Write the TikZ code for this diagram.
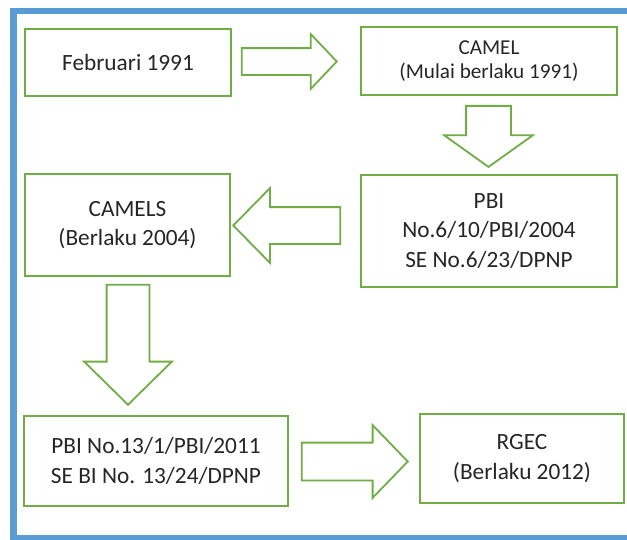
\documentclass[tikz,border=0pt]{standalone}
\usepackage{fontspec}
\setmainfont{Carlito}
\usetikzlibrary{shapes.arrows}
\definecolor{frameblue}{HTML}{5B9BD5}
\definecolor{boxgreen}{HTML}{70AD47}
\tikzset{
  stage/.style={draw=boxgreen,line width=2.2pt,fill=white,align=center,inner sep=0pt,text=black!85},
  blockarrow/.style={single arrow,draw=boxgreen,line width=1.8pt,fill=white,anchor=tip,single arrow head indent=0pt},
}
\begin{document}
\begin{tikzpicture}[x=1pt,y=-1pt,font=\fontsize{23.3}{29.5}\selectfont]
\useasboundingbox (0,0) rectangle (627,539);
\begin{scope}
\clip (0,0) rectangle (627,539);
\draw[frameblue,line width=6.5pt,fill=white] (13.5,11) rectangle (645,538);
\end{scope}
% stages
\node[stage,minimum width=206pt,minimum height=67pt] (feb) at (128,62.5) {Februari 1991};
\node[stage,minimum width=256pt,minimum height=68pt,font=\fontsize{21.2}{23.5}\selectfont] (camel) at (489,61) {CAMEL\\(Mulai berlaku 1991)};
\node[stage,minimum width=256pt,minimum height=112pt] (pbi6) at (489,231) {PBI\\No.6/10/PBI/2004\\SE No.6/23/DPNP};
\node[stage,minimum width=205pt,minimum height=102pt] (camels) at (127.5,225) {CAMELS\\(Berlaku 2004)};
\node[stage,minimum width=264pt,minimum height=90pt] (pbi13) at (156,461) {PBI No.13/1/PBI/2011\\SE BI No. 13/24/DPNP};
\node[stage,minimum width=204pt,minimum height=89pt] (rgec) at (522,458.5) {RGEC\\(Berlaku 2012)};
% block arrows (placed by their tips)
\node[blockarrow,inner sep=12.5pt,minimum height=95pt,minimum width=53pt,single arrow head extend=14pt,single arrow tip angle=93] (a1) at (338,61.5) {};
\node[blockarrow,inner sep=21.5pt,shape border rotate=270,minimum height=61pt,minimum width=87pt,single arrow head extend=22pt,single arrow tip angle=109] (a2) at (488.5,168) {};
\node[blockarrow,inner sep=17.5pt,shape border rotate=180,minimum height=107pt,minimum width=73pt,single arrow head extend=19pt,single arrow tip angle=91] (a3) at (232,225.5) {};
\node[blockarrow,inner sep=20.5pt,shape border rotate=270,minimum height=120pt,minimum width=86pt,single arrow head extend=22.5pt,single arrow tip angle=91] (a4) at (128,406) {};
\node[blockarrow,inner sep=18pt,minimum height=106pt,minimum width=71pt,single arrow head extend=17.5pt,single arrow tip angle=92] (a5) at (409,461.5) {};
\end{tikzpicture}
\end{document}
